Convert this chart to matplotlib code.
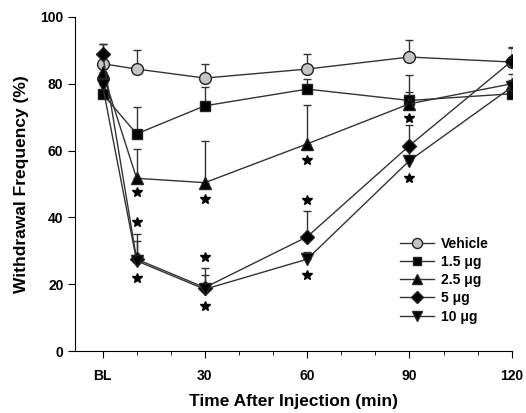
import matplotlib.pyplot as plt
import numpy as np

plt.rcParams['font.family'] = ['Liberation Sans', 'DejaVu Sans']
plt.rcParams['font.weight'] = 'bold'

# time points (BL plotted at 0)
times = [0, 10, 30, 60, 90, 120]
tick_pos = [0, 30, 60, 90, 120]
tick_labels = ['BL', '30', '60', '90', '120']

labels = ['Vehicle', '1.5 \u03bcg', '2.5 \u03bcg', '5 \u03bcg', '10 \u03bcg']
vehicle = [86, 84.4, 81.7, 84.4, 88, 86.5]
vehicle_err = [6, 5.6, 4.3, 4.6, 5, 4.5]
dose_15 = [77, 65, 73.4, 78.4, 75, 77]
dose_15_err = [3, 8, 5.6, 3, 7.6, 3]
dose_25 = [83.6, 51.7, 50.4, 62, 74, 80]
dose_25_err = [3, 8.8, 12.6, 11.6, 3.6, 3]
dose_5 = [89, 27.5, 19, 34.2, 61.5, 86.8]
dose_5_err = [3, 7.5, 6, 7.8, 6.1, 4]
dose_10 = [79.6, 27, 18.5, 27.5, 57, 79]
dose_10_err = [2, 6, 4.2, 2, 4, 2]

# significance stars
star_x = [10, 10, 10, 30, 30, 30, 60, 60, 60, 90, 90]
star_y = [47.6, 38.6, 21.9, 45.5, 28, 13.5, 57.2, 45.2, 22.8, 69.8, 51.8]

fig = plt.figure(figsize=(5.26, 4.13), dpi=100)
ax = fig.add_axes([0.143, 0.150, 0.830, 0.809])

series = [vehicle, dose_15, dose_25, dose_5, dose_10]
errs = [vehicle_err, dose_15_err, dose_25_err, dose_5_err, dose_10_err]
markers = ['o', 's', '^', 'D', 'v']
faces = ['#c4c4c4', 'black', 'black', 'black', 'black']
sizes = [8.5, 7.5, 8.5, 7.5, 8.5]

for vals, err, m, fc, ms, lab in zip(series, errs, markers, faces, sizes, labels):
    ax.errorbar(times, vals, yerr=[np.zeros(len(err)), err], fmt='none',
                ecolor='#333333', elinewidth=1, capsize=3, capthick=1, zorder=2)
    ax.plot(times, vals, color='#333333', lw=1, marker=m, ms=ms,
            mfc=fc, mec='#222222', mew=1, label=lab, zorder=3)

ax.plot(star_x, star_y, ls='none', marker='*', color='black', ms=7, zorder=4)

ax.set_xlim(-8, 120)
ax.set_ylim(0, 100)
ax.set_xticks(tick_pos)
ax.set_xticklabels(tick_labels)
ax.set_xticks([10, 20, 40, 50, 70, 80, 100, 110], minor=True)
ax.set_yticks([0, 20, 40, 60, 80, 100])
ax.tick_params(axis='both', direction='out', length=5, labelsize=10)
ax.tick_params(axis='x', which='minor', direction='out', length=3)
ax.tick_params(axis='x', pad=8)
ax.spines['top'].set_visible(False)
ax.spines['right'].set_visible(False)
ax.spines['bottom'].set_bounds(-8, 120)

ax.set_xlabel('Time After Injection (min)', fontsize=12.5, fontweight='bold', labelpad=8)
ax.set_ylabel('Withdrawal Frequency (%)', fontsize=12.5, fontweight='bold', labelpad=8)

ax.legend(loc='lower right', bbox_to_anchor=(0.975, 0.045), frameon=False,
          fontsize=10, handlelength=2.4, labelspacing=0.3, handletextpad=0.5,
          markerscale=0.85)

fig.savefig('out.png', dpi=100)
